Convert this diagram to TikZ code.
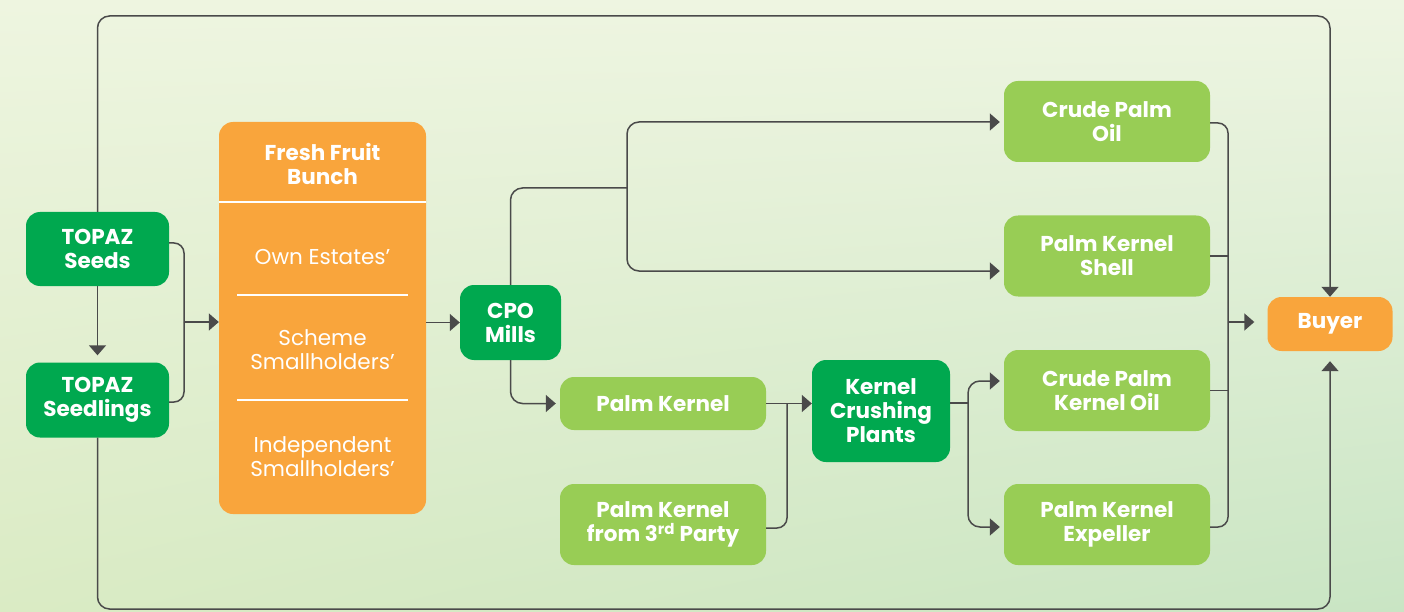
\documentclass[tikz,border=0pt]{standalone}
\usepackage{fontspec}
\setmainfont{Poppins}
\usetikzlibrary{arrows.meta,calc,shadings}
\definecolor{dkgreen}{HTML}{00A84F}
\definecolor{ltgreen}{HTML}{98CD55}
\definecolor{orng}{HTML}{F9A53C}
\definecolor{linec}{HTML}{4A4A4A}
\definecolor{bgul}{HTML}{EEF5E0}
\definecolor{bgur}{HTML}{EEF5E2}
\definecolor{bgll}{HTML}{DAEBC4}
\definecolor{bglr}{HTML}{C9E5C4}
\begin{document}
\begin{tikzpicture}[x=1pt,y=-1pt,
  box/.style={rounded corners=14pt, text=white, align=center, inner sep=0pt,
     font=\fontsize{21.5}{24}\selectfont\bfseries},
  dk/.style={box, fill=dkgreen},
  lt/.style={box, fill=ltgreen},
  og/.style={box, fill=orng},
  light/.style={text=white, align=center, inner sep=0pt, font=\fontsize{21.5}{24}\selectfont},
  conn/.style={draw=linec, line width=1.5pt, rounded corners=12pt},
  arr/.style={conn, -{Triangle[length=10pt,width=17pt]}}
]
\useasboundingbox (0,0) rectangle (1404,612);
\shade[upper left=bgul, upper right=bgur, lower left=bgll, lower right=bglr] (0,0) rectangle (1404,612);

% nodes
\node[dk, minimum width=143pt, minimum height=74pt] (seeds) at (97.5,249) {TOPAZ\\Seeds};
\node[dk, minimum width=143pt, minimum height=75pt] (seedlings) at (97.5,400) {TOPAZ\\Seedlings};
\node[og, minimum width=207pt, minimum height=392pt] (ffb) at (322.5,318) {};
\node[box] (ffbt) at (322.5,164) {Fresh Fruit\\Bunch};
\node[light] (own) at (322.5,257) {Own Estates’};
\node[light] (scheme) at (322.5,350) {Scheme\\Smallholders’};
\node[light] (indep) at (322.5,457) {Independent\\Smallholders’};
\draw[white, line width=2.5pt] (219,202) -- (426,202);
\draw[white, line width=1.2pt] (237,295) -- (408,295);
\draw[white, line width=1.2pt] (237,400) -- (408,400);

\node[dk, minimum width=101pt, minimum height=75pt] (cpo) at (510.5,322.5) {CPO\\Mills};
\node[lt, minimum width=206pt, minimum height=53pt] (pk) at (663,403.5) {Palm Kernel};
\node[lt, minimum width=206pt, minimum height=81pt] (pk3) at (663,524.5) {Palm Kernel\\from 3\textsuperscript{rd} Party};
\node[dk, minimum width=138pt, minimum height=102pt] (kcp) at (881,411) {Kernel\\Crushing\\Plants};
\node[lt, minimum width=206pt, minimum height=81pt] (cpoil) at (1107,121.5) {Crude Palm\\Oil};
\node[lt, minimum width=206pt, minimum height=81pt] (pks) at (1107,256) {Palm Kernel\\Shell};
\node[lt, minimum width=206pt, minimum height=81pt] (cpko) at (1107,390.5) {Crude Palm\\Kernel Oil};
\node[lt, minimum width=206pt, minimum height=81pt] (pke) at (1107,524.5) {Palm Kernel\\Expeller};
\node[og, minimum width=125pt, minimum height=54pt] (buyer) at (1330,324) {Buyer};

% junction coordinates
\coordinate (topy) at (700,16);
\coordinate (boty) at (700,609);
\coordinate (j1) at (184,322);
\coordinate (j2) at (627,188);
\coordinate (j3) at (787,404);
\coordinate (j4) at (968,403);
\coordinate (j5) at (1228,322);

% connectors
\draw[arr] (seeds.north) |- (topy) -| (buyer.north);
\draw[arr, shorten >=10pt] (seedlings.south) |- (boty) -| (buyer.south);
\draw[arr, shorten >=7pt] (seeds.south) -- (seedlings.north);
\draw[conn, rounded corners=10pt] (seeds.east |- 0,243) -| (j1);
\draw[conn, rounded corners=10pt] (seedlings.east |- 0,402) -| (j1);
\draw[arr] (j1) -- (ffb.west |- j1);
\draw[arr] (ffb.east |- cpo.west) -- (cpo.west);
\draw[conn] (cpo.north) |- (j2);
\draw[arr, shorten >=4pt] (j2) |- (cpoil.west |- 0,122);
\draw[arr, shorten >=4pt] (j2) |- (pks.west |- 0,271);
\draw[arr, shorten >=4pt] (cpo.south) |- (pk.west);
\draw[arr] (pk.east) -- (kcp.west |- pk.east);
\draw[conn, rounded corners=10pt] (pk3.east |- 0,528) -| (j3);
\draw[conn] (kcp.east |- j4) -- (j4);
\draw[arr, shorten >=4pt] (j4) |- (cpko.west |- 0,381);
\draw[arr, shorten >=4pt] (j4) |- (pke.west |- 0,527);
\draw[conn, rounded corners=10pt] (cpoil.east |- 0,123) -| (j5);
\draw[conn, rounded corners=10pt] (pke.east |- 0,527) -| (j5);
\draw[conn] (pks.east) -- (pks.east -| j5);
\draw[conn] (cpko.east) -- (cpko.east -| j5);
\draw[arr, shorten >=13pt] (j5) -- (buyer.west |- j5);
\end{tikzpicture}
\end{document}
